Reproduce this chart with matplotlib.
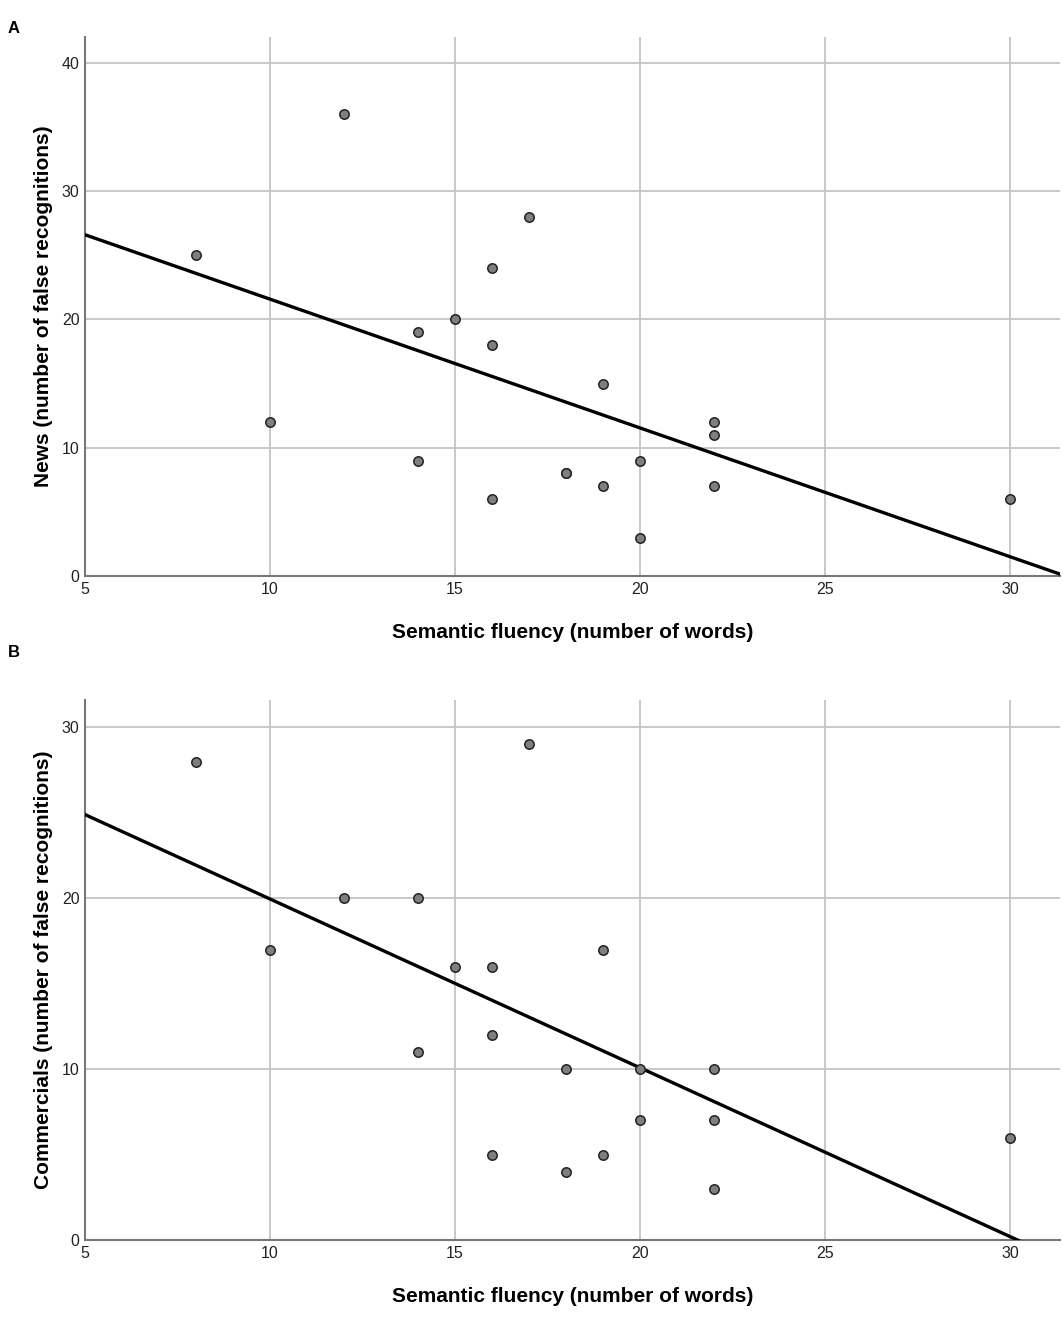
import numpy as np
import matplotlib
matplotlib.use("Agg")
import matplotlib.pyplot as plt

plt.rcParams['font.family'] = ['Liberation Sans', 'DejaVu Sans']

# Panel A: News
fluency_a = [8, 10, 12, 14, 14, 15, 16, 16, 16, 17, 18, 18, 19, 19, 20, 20, 22, 22, 22, 30]
news_fr = [25, 12, 36, 19, 9, 20, 24, 18, 6, 28, 8, 8, 15, 7, 9, 3, 12, 11, 7, 6]

# Panel B: Commercials
fluency_b = [8, 10, 12, 14, 14, 15, 16, 16, 16, 17, 18, 18, 19, 19, 20, 20, 22, 22, 22, 30]
comm_fr = [28, 17, 20, 20, 11, 16, 16, 12, 5, 29, 10, 4, 17, 5, 10, 7, 10, 7, 3, 6]

xticks = [5, 10, 15, 20, 25, 30]
yticks_a = [0, 10, 20, 30, 40]
yticks_b = [0, 10, 20, 30]

fig = plt.figure(figsize=(10.63, 13.39), dpi=100)
axA = fig.add_axes([0.080, 0.5698, 0.917, 0.4026])
axB = fig.add_axes([0.080, 0.0739, 0.917, 0.4033])

def draw(ax, x, y, ylim, yticks, ylabel):
    x = np.array(x, float); y = np.array(y, float)
    ax.set_xlim(5, 31.35)
    ax.set_ylim(0, ylim)
    ax.set_xticks(xticks)
    ax.set_yticks(yticks)
    ax.grid(True, color='#c4c4c4', linewidth=1.3)
    ax.set_axisbelow(True)
    for s in ['top', 'right']:
        ax.spines[s].set_visible(False)
    for s in ['left', 'bottom']:
        ax.spines[s].set_color('#777777')
        ax.spines[s].set_linewidth(1.5)
    ax.tick_params(length=0, labelsize=11.5, colors='#222222', pad=4)
    slope, icpt = np.polyfit(x, y, 1)
    xs = np.array([5, 31.35])
    ax.plot(xs, icpt + slope * xs, color='black', linewidth=2.4, zorder=3)
    ax.scatter(x, y, s=46, facecolor='#7f7f7f', edgecolor='#222222', linewidth=1.1, zorder=4)
    ax.set_xlabel('Semantic fluency (number of words)', fontsize=15, fontweight='bold', labelpad=19)
    ax.set_ylabel(ylabel, fontsize=15, fontweight='bold', labelpad=6)

draw(axA, fluency_a, news_fr, 42.0, yticks_a, 'News (number of false recognitions)')
draw(axB, fluency_b, comm_fr, 31.6, yticks_b, 'Commercials (number of false recognitions)')

fig.text(0.007, 0.979, 'A', fontsize=12, fontweight='bold', ha='left', va='center')
fig.text(0.007, 0.513, 'B', fontsize=12, fontweight='bold', ha='left', va='center')

fig.savefig('out.png', dpi=100)
